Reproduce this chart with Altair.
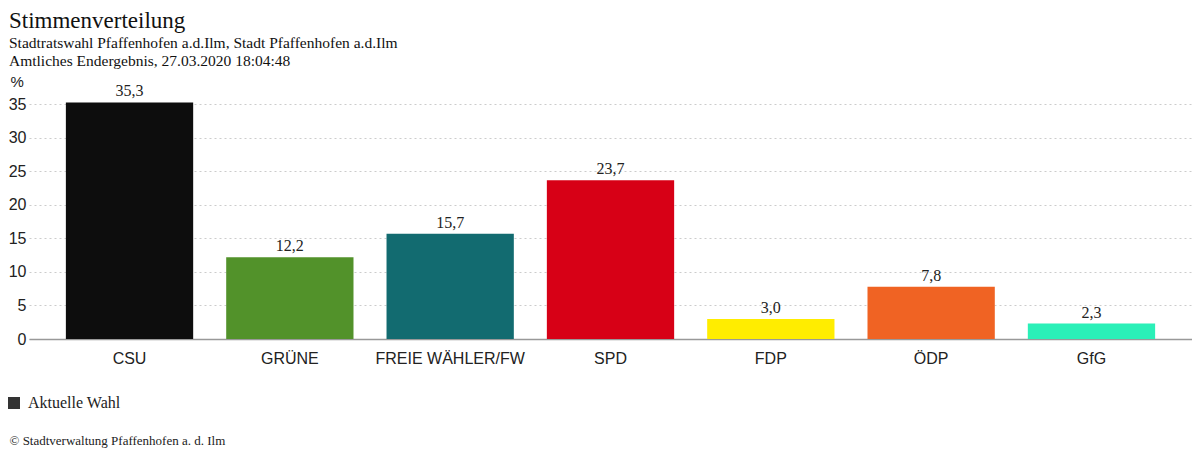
import altair as alt
import pandas as pd

parties = ["CSU", "GRÜNE", "FREIE WÄHLER/FW", "SPD", "FDP", "ÖDP", "GfG"]
values = [35.3, 12.2, 15.7, 23.7, 3.0, 7.8, 2.3]
colors = ["#0d0d0d", "#52922a", "#126b70", "#d70016", "#ffed00", "#f06323", "#2bf0b8"]
y_ticks = [0, 5, 10, 15, 20, 25, 30, 35]
legend_labels = ["Aktuelle Wahl"]
legend_colors = ["#333333"]

df = pd.DataFrame({"party": parties, "value": values, "color": colors})
leg = pd.DataFrame({"series": legend_labels})

SERIF = "Liberation Serif"
SANS = "Liberation Sans"

x = alt.X(
    "party:N",
    sort=parties,
    scale=alt.Scale(paddingInner=0.206, paddingOuter=0.23),
    axis=alt.Axis(
        title="© Stadtverwaltung Pfaffenhofen a. d. Ilm",
        titleFont=SERIF, titleFontSize=13, titleFontWeight="normal", titleColor="#222",
        titleAnchor="start", titleAlign="left", titleBaseline="alphabetic",
        titleX=-20, titleY=105,
        labelFont=SANS, labelFontSize=16, labelColor="#222", labelAngle=0,
        labelPadding=11, ticks=False, tickSize=0,
        domainColor="#999", domainWidth=1.5, grid=False,
    ),
)
y = alt.Y(
    "value:Q",
    scale=alt.Scale(domain=[0, 37], nice=False),
    axis=alt.Axis(
        values=y_ticks,
        title="%", titleAngle=0, titleAlign="left", titleBaseline="alphabetic",
        titleX=-19, titleY=-5, titleFont=SANS, titleFontSize=15,
        titleFontWeight="normal", titleColor="#222",
        labelFont=SANS, labelFontSize=16, labelColor="#222", labelPadding=3,
        labelOverlap=False,
        ticks=False, tickSize=0, domain=False,
        grid=True, gridColor="#cccccc", gridDash=[2, 3], gridWidth=1,
    ),
)

bars = alt.Chart(df).mark_bar().encode(
    x=x, y=y, color=alt.Color("color:N", scale=None)
)

labels = alt.Chart(df).transform_calculate(
    label="replace(format(datum.value, '.1f'), '.', ',')"
).mark_text(
    font=SERIF, fontSize=16, color="#222", baseline="alphabetic", dy=-6
).encode(x=x, y=y, text="label:N")

legend_layer = alt.Chart(leg).mark_square(opacity=0).encode(
    fill=alt.Fill(
        "series:N",
        scale=alt.Scale(domain=legend_labels, range=legend_colors),
        legend=alt.Legend(
            title=None, orient="none", legendX=-23, legendY=304, padding=0,
            symbolType="square", symbolSize=144, symbolOpacity=1,
            symbolStrokeWidth=0, labelOffset=6,
            labelFont=SERIF, labelFontSize=16, labelColor="#222",
        ),
    )
)

chart = alt.layer(bars, labels, legend_layer).properties(
    width=1163,
    height=248,
    autosize=alt.AutoSizeParams(type="none"),
    padding={"left": 21, "top": 83, "right": 0, "bottom": 110},
    title=alt.TitleParams(
        text="Stimmenverteilung",
        subtitle=["Stadtratswahl Pfaffenhofen a.d.Ilm, Stadt Pfaffenhofen a.d.Ilm",
                  "Amtliches Endergebnis, 27.03.2020 18:04:48"],
        anchor="start", frame="group", dx=-20, dy=1,
        font=SERIF, fontSize=23, fontWeight="normal", color="#111",
        subtitleFont=SERIF, subtitleFontSize=15.5, subtitleColor="#111",
        subtitleLineHeight=18, subtitlePadding=3, offset=6,
    ),
).configure_view(stroke=None)

chart.save("out.html", embed_options={"renderer": "svg", "actions": False})
